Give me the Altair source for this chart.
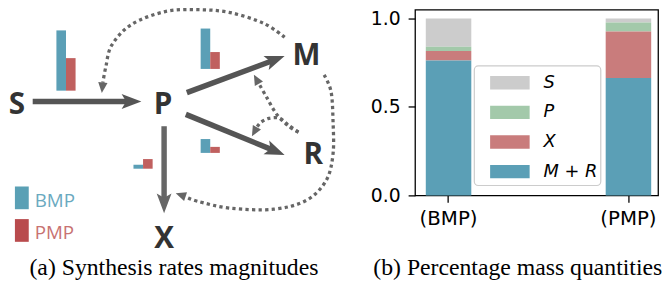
import math
import altair as alt
import pandas as pd

# ---------------- data: panel (b) percentage mass quantities ----------------
conditions = ["(BMP)", "(PMP)"]
components = ["S", "P", "X", "M + R"]          # legend order, top to bottom
frac_bmp = [0.160, 0.024, 0.054, 0.762]
frac_pmp = [0.022, 0.051, 0.263, 0.664]
comp_colors = ["#cccccc", "#a3c9aa", "#c97c7c", "#5b9fb6"]

# ---------------- data: panel (a) synthesis rate magnitudes (relative) ------
reactions = ["S-P", "P-M", "P-R", "P-X"]
rate_bmp = [1.00, 0.67, 0.23, 0.066]
rate_pmp = [0.54, 0.28, 0.10, 0.16]
methods = ["BMP", "PMP"]
method_colors = ["#5b9fb6", "#c0605f"]
method_text_colors = ["#6aa9c0", "#c87272"]

node_names = ["S", "P", "M", "R", "X"]
captions = ["(a) Synthesis rates magnitudes", "(b) Percentage mass quantities"]

# ---------------- layout of the diagram (reference pixel frame) -------------
node_pos = {"S": (17, 110), "P": (165, 110), "M": (310, 60), "R": (317, 160), "X": (166, 245)}
arrow_geo = {  # start, tip
    "S-P": ((33, 97), (143, 97)),
    "P-M": ((189, 88), (288, 51)),
    "P-R": ((188, 110), (288, 151)),
    "P-X": ((166, 122), (166, 210)),
}
bar_anchor = {"S-P": (57, 86), "P-M": (203, 64), "P-R": (203, 149), "P-X": (135, 165)}
BAR_W = 9.7
PX_PER_RATE = 61.0
curves = {
    "a": [(288, 32), (267, 18), (233, 7), (200, 4), (167, 6), (133, 19), (113, 40), (107, 62), (104, 78)],
    "b": [(328, 70), (335, 87), (337, 117), (337, 150), (330, 177), (310, 197), (277, 206), (233, 205), (200, 198), (187, 193)],
    "c": [(302, 128), (292, 122), (280, 110), (270, 93), (262, 79)],
    "d": [(302, 128), (292, 121), (283, 114), (272, 114), (264, 118), (260, 123)],
}
curve_tips = {"a": (103, 88), "b": (178, 190), "c": (257, 70), "d": (255, 132)}
caption_pos = [(176, 273), (524, 273)]
legend_sq = [(15, 183), (15, 216)]
legend_lbl = [(35, 204), (35, 236)]
legend_box = (480, 61, 608, 182)


def ang(dx, dy):
    return (math.degrees(math.atan2(dy, dx)) + 360) % 360


def sx():
    return alt.Scale(domain=[0, 672], range=[-420, 252], nice=False, zero=False)


def sy():
    return alt.Scale(domain=[0, 290], range=[-4, 286], nice=False, zero=False)


# ---------------- panel (b) stacked bars ----------------
rows = []
for cond, vals in zip(conditions, [frac_bmp, frac_pmp]):
    for i, (comp, v) in enumerate(zip(components, vals)):
        rows.append({"condition": cond, "component": comp, "value": v,
                     "stack_order": len(components) - 1 - i})
bars_df = pd.DataFrame(rows)

bars = alt.Chart(bars_df).mark_bar().encode(
    x=alt.X("condition:N", sort=conditions,
            scale=alt.Scale(domain=conditions, paddingInner=0.747, paddingOuter=0.049, align=0.61),
            axis=alt.Axis(title=None, labelAngle=0, labelFont="DejaVu Sans", labelFontSize=20,
                          labelColor="black", tickSize=7, tickWidth=1.3, tickColor="black",
                          labelPadding=6, domain=False, grid=False)),
    y=alt.Y("value:Q", stack="zero",
            scale=alt.Scale(domain=[0, 1.05], nice=False),
            axis=alt.Axis(title=None, values=[0, 0.5, 1.0], format=".1f", labelFont="DejaVu Sans",
                          labelFontSize=19, labelColor="black", tickSize=7, tickWidth=1.3,
                          tickColor="black", labelPadding=8, domain=False, grid=False)),
    color=alt.Color("component:N",
                    scale=alt.Scale(domain=components, range=comp_colors),
                    legend=alt.Legend(title=None, orient="none", legendX=67, legendY=45,
                                      direction="vertical",
                                      fillColor="transparent", strokeColor="transparent",
                                      padding=9,
                                      symbolType="M -1 -0.3375 H 1 V 0.3375 H -1 Z",
                                      symbolSize=1600, symbolStrokeWidth=0, symbolOpacity=1,
                                      labelFont="DejaVu Sans", labelFontStyle="italic",
                                      labelFontSize=18, labelColor="black", labelOffset=14,
                                      rowPadding=1)),
    order=alt.Order("stack_order:Q"),
)

# legend frame (drawn as a rounded box behind the legend entries)
box_df = pd.DataFrame([{"x": legend_box[0], "y": legend_box[1], "x2": legend_box[2], "y2": legend_box[3]}])
legend_frame = alt.Chart(box_df).mark_rect(
    fill="white", fillOpacity=0.8, stroke="#cccccc", strokeWidth=1.2, cornerRadius=4).encode(
    x=alt.X("x:Q", scale=sx(), axis=None), x2="x2:Q",
    y=alt.Y("y:Q", scale=sy(), axis=None), y2="y2:Q")

# ---------------- panel (a) diagram ----------------
nodes_df = pd.DataFrame([{"name": n, "x": node_pos[n][0], "y": node_pos[n][1]} for n in node_names])
node_text = alt.Chart(nodes_df).mark_text(
    font="Open Sans", fontWeight="bold", fontSize=30, color="#333333",
    align="center", baseline="alphabetic").encode(
    x=alt.X("x:Q", scale=sx(), axis=None), y=alt.Y("y:Q", scale=sy(), axis=None), text="name:N")

HEAD_L = 20
line_rows, head_rows = [], []
for r in reactions:
    (x0, y0), (x1, y1) = arrow_geo[r]
    L = math.hypot(x1 - x0, y1 - y0)
    ux, uy = (x1 - x0) / L, (y1 - y0) / L
    line_rows.append({"r": r, "x": x0, "y": y0, "x2": x1 - ux * HEAD_L * 0.7, "y2": y1 - uy * HEAD_L * 0.7,
                      "c": "#666666" if r == "P-X" else "#555555"})
    head_rows.append({"r": r, "x": x1 - ux * HEAD_L / 2, "y": y1 - uy * HEAD_L / 2, "angle": ang(ux, uy),
                      "c": "#666666" if r == "P-X" else "#555555"})
lines_df = pd.DataFrame(line_rows)
heads_df = pd.DataFrame(head_rows)

arrow_lines = alt.Chart(lines_df).mark_rule(strokeWidth=5.5, strokeCap="butt").encode(
    x=alt.X("x:Q", scale=sx(), axis=None), y=alt.Y("y:Q", scale=sy(), axis=None),
    x2="x2:Q", y2="y2:Q", color=alt.Color("c:N", scale=None))
arrow_heads = alt.Chart(heads_df).mark_point(
    shape="M -1 -0.75 L 1 0 L -1 0.75 L -0.55 0 Z", filled=True, opacity=1, size=HEAD_L ** 2,
    strokeWidth=0).encode(
    x=alt.X("x:Q", scale=sx(), axis=None), y=alt.Y("y:Q", scale=sy(), axis=None),
    angle=alt.Angle("angle:Q", scale=None), color=alt.Color("c:N", scale=None))

crow = []
dhead = []
for cid, pts in curves.items():
    for i, (x, y) in enumerate(pts):
        crow.append({"cid": cid, "i": i, "x": x, "y": y})
    tx, ty = curve_tips[cid]
    lx, ly = pts[-1]
    L = math.hypot(tx - lx, ty - ly)
    ux, uy = (tx - lx) / L, (ty - ly) / L
    dhead.append({"cid": cid, "x": tx - ux * 5, "y": ty - uy * 5, "angle": ang(ux, uy)})
curves_df = pd.DataFrame(crow)
dheads_df = pd.DataFrame(dhead)

dotted = alt.Chart(curves_df).mark_line(
    strokeDash=[3.3, 3.3], strokeWidth=3.3, color="#666666", interpolate="cardinal",
    strokeCap="butt").encode(
    x=alt.X("x:Q", scale=sx(), axis=None), y=alt.Y("y:Q", scale=sy(), axis=None),
    detail="cid:N", order="i:Q")
dotted_heads = alt.Chart(dheads_df).mark_point(
    shape="M -1 -0.9 L 1 0 L -1 0.9 Z", filled=True, opacity=1, size=110, color="#666666",
    strokeWidth=0).encode(
    x=alt.X("x:Q", scale=sx(), axis=None), y=alt.Y("y:Q", scale=sy(), axis=None),
    angle=alt.Angle("angle:Q", scale=None))

mb_rows = []
for r, vb, vp in zip(reactions, rate_bmp, rate_pmp):
    ax, ay = bar_anchor[r]
    for k, (m, v) in enumerate(zip(methods, [vb, vp])):
        mb_rows.append({"reaction": r, "method": m, "rate": v,
                        "left": ax + k * BAR_W, "base": ay})
mb_df = pd.DataFrame(mb_rows)
mini_bars = alt.Chart(mb_df).transform_calculate(
    right=f"datum.left + {BAR_W}", top=f"datum.base - datum.rate * {PX_PER_RATE}").mark_rect().encode(
    x=alt.X("left:Q", scale=sx(), axis=None), x2="right:Q",
    y=alt.Y("top:Q", scale=sy(), axis=None), y2="base:Q",
    color=alt.Color("method:N", scale=alt.Scale(domain=methods, range=method_colors), legend=None))

leg_df = pd.DataFrame({"method": methods,
                       "sx": [p[0] for p in legend_sq], "sy": [p[1] for p in legend_sq],
                       "tx": [p[0] for p in legend_lbl], "ty": [p[1] for p in legend_lbl],
                       "tc": method_text_colors})
leg_sq = alt.Chart(leg_df).transform_calculate(
    sx2="datum.sx + 14", sy2="datum.sy + 23").mark_rect().encode(
    x=alt.X("sx:Q", scale=sx(), axis=None), x2="sx2:Q",
    y=alt.Y("sy:Q", scale=sy(), axis=None), y2="sy2:Q",
    color=alt.Color("method:N", scale=alt.Scale(domain=methods, range=["#5aa0b5", "#b94b4d"]), legend=None))
leg_txt = alt.Chart(leg_df).mark_text(font="Open Sans", fontSize=19, align="left",
                                      baseline="alphabetic").encode(
    x=alt.X("tx:Q", scale=sx(), axis=None), y=alt.Y("ty:Q", scale=sy(), axis=None),
    text="method:N", color=alt.Color("tc:N", scale=None))

cap_df = pd.DataFrame({"text": captions, "x": [p[0] for p in caption_pos], "y": [p[1] for p in caption_pos]})
cap_txt = alt.Chart(cap_df).mark_text(font="Liberation Serif", fontSize=24, color="black",
                                      align="center", baseline="alphabetic").encode(
    x=alt.X("x:Q", scale=sx(), axis=None), y=alt.Y("y:Q", scale=sy(), axis=None), text="text:N")

chart = alt.layer(
    bars, legend_frame, dotted, dotted_heads, arrow_lines, arrow_heads, mini_bars, node_text,
    leg_sq, leg_txt, cap_txt
).resolve_scale(x="independent", y="independent", color="independent").properties(
    width=246, height=188,
    autosize=alt.AutoSizeParams(type="none"),
    padding={"left": 412, "top": 0, "right": 6, "bottom": 86},
).configure_view(stroke="black", strokeWidth=1.3)

chart.save("out.html", embed_options={"renderer": "svg", "actions": False})
